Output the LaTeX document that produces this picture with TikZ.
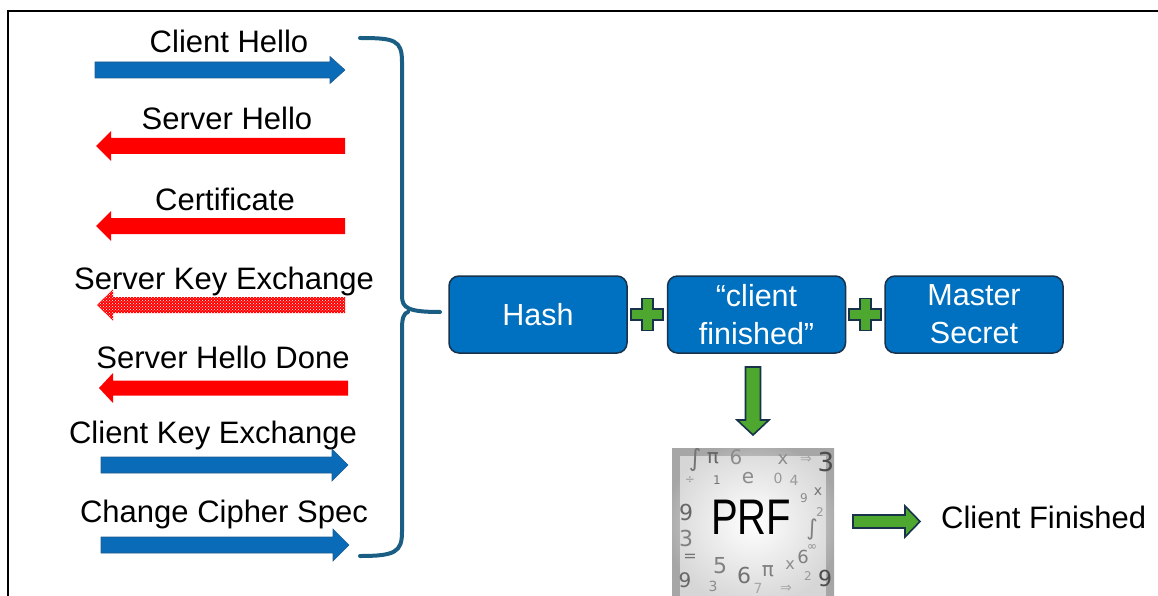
\documentclass[tikz,border=0pt]{standalone}
\usepackage{fontspec}
\setmainfont{Liberation Sans}
\newfontfamily\symfont{DejaVu Sans}
\usetikzlibrary{patterns,calc}
\definecolor{msblue}{HTML}{0070C0}
\definecolor{arrblue}{HTML}{0A6CB8}
\definecolor{arredge}{HTML}{1F5D91}
\definecolor{msred}{HTML}{FF0000}
\definecolor{msgreen}{HTML}{4EA72E}
\definecolor{darkedge}{HTML}{17324A}
\definecolor{bracecol}{HTML}{1B5E84}
\newcommand\blkarrow[7]{\path[#1] (#2,{#4-#5}) -- ({#3-#7},{#4-#5}) -- ({#3-#7},{#4-#6}) -- (#3,#4) -- ({#3-#7},{#4+#6}) -- ({#3-#7},{#4+#5}) -- (#2,{#4+#5}) -- cycle;}
\begin{document}
\begin{tikzpicture}[x=1pt,y=-1pt,
  lbl/.style={anchor=base,inner sep=0,font=\fontsize{31}{34}\selectfont},
  bluearr/.style={fill=arrblue,draw=arredge,line width=0.6},
  redarr/.style={fill=msred},
  dotarr/.style={fill=msred,postaction={pattern=crosshatch dots,pattern color=white}},
  greenarr/.style={fill=msgreen,draw=darkedge,line width=1.6,line join=miter},
  bbox/.style={rounded corners=10,minimum width=178,minimum height=77,fill=msblue,draw=darkedge,line width=1.5,text=white,align=center,inner sep=0,font=\fontsize{30.5}{38}\selectfont},
  sym/.style={inner sep=0,font=\symfont}]
\useasboundingbox (0,0) rectangle (1158,596);
\draw[line width=2.5] (8,596) -- (8,11) -- (1158,11);

% left messages
\node[lbl] (t1) at (229,53) {Client Hello};
\blkarrow{bluearr}{95}{345}{70}{8}{13.5}{15}
\node[lbl] (t2) at (227,130) {Server Hello};
\blkarrow{redarr}{345}{96}{146}{8}{15}{-15}
\node[lbl] (t3) at (225,210) {Certificate};
\blkarrow{redarr}{345}{96}{226}{8}{15}{-15}
\node[lbl] (t4) at (224,289) {Server Key Exchange};
\blkarrow{dotarr}{345}{97}{305}{8}{15.5}{-16}
\node[lbl] (t5) at (223,368) {Server Hello Done};
\blkarrow{redarr}{348}{99}{388}{7.5}{15}{-14}
\node[lbl] (t6) at (213,443) {Client Key Exchange};
\blkarrow{bluearr}{101}{348}{465}{8}{16}{16}
\node[lbl] (t7) at (224,522) {Change Cipher Spec};
\blkarrow{bluearr}{101}{349}{545}{8}{16}{16}

% brace
\coordinate (brtip) at (440,312);
\draw[bracecol,line width=4,line cap=round,line join=round]
  (360,38) .. controls (395,38) and (402,40) .. (402,62) -- (402,296)
  .. controls (402,308) and (408,312) .. (brtip)
  (408,312) .. controls (404,313) and (402,318) .. (402,328) -- (402,532)
  .. controls (402,552) and (395,556) .. (360,556);

% boxes
\node[bbox] (hash) at (538,314.5) {Hash};
\node[bbox] (cf) at (756.5,314.5) {“client\\finished”};
\node[bbox] (ms) at (974,314.5) {Master\\Secret};

% plus signs
\foreach \a/\b/\n in {hash/cf/p1, cf/ms/p2}{
  \coordinate (\n) at ($(\a.east)!0.5!(\b.west)$);
  \path[greenarr] ($(\n)+(-5.5,-16)$) -- ++(11,0) -- ++(0,10.5) -- ++(10.5,0) -- ++(0,11) -- ++(-10.5,0)
    -- ++(0,10.5) -- ++(-11,0) -- ++(0,-10.5) -- ++(-10.5,0) -- ++(0,-11) -- ++(10.5,0) -- cycle;
}

% down arrow
\path[greenarr] (745.5,367) -- (760.5,367) -- (760.5,420) -- (769,420) -- (753,435) -- (737,420) -- (745.5,420) -- cycle;

% PRF box
\node[minimum width=162,minimum height=150,inner sep=0,anchor=north west] (prfbox) at (672,448) {};
\begin{scope}
\clip (672,448) rectangle (834,598);
\shade[inner color=white,outer color=black!35] (664,440) rectangle (842,606);
\fill[white,opacity=0.55] (680,456) rectangle (826,598);
\foreach \x/\y/\c/\s/\g [count=\i] in {
  695/460/∫/24/55, 713/458/π/20/60, 736/457/6/20/45, 783/460/x/18/45, 806/460/⇒/14/35, 826/462/3/26/70,
  690/480/÷/12/40, 717/480/1/12/55, 748/478/e/20/45, 778/478/0/14/40, 794/480/4/14/40, 804/498/9/12/45, 818/492/x/14/55,
  686/512/9/22/60, 686/538/3/22/50, 690/558/=/16/55, 820/512/2/12/40,
  812/530/∫/22/50, 812/548/∞/12/45, 720/566/5/22/50, 744/575/6/22/55, 768/571/π/20/50, 790/565/x/16/45, 803/557/6/18/50,
  808/576/2/12/40, 825/578/9/22/70, 685/580/9/20/60, 713/586/3/14/45, 758/588/7/14/35,
  786/589/⇒/14/35}
  \node[sym,text=black!\g,font=\symfont\fontsize{\s}{\s}\selectfont] (sym\i) at (\x,\y) {\c};
\end{scope}
\node[inner sep=0,font=\fontsize{50}{54}\selectfont] (prf) at (751,517) {\scalebox{0.8}[1]{PRF}};

% right arrow and output
\blkarrow{greenarr}{853}{920}{521.5}{6.5}{15.5}{15}
\node[lbl,anchor=base west] (out) at (941,528) {Client Finished};
\end{tikzpicture}
\end{document}
